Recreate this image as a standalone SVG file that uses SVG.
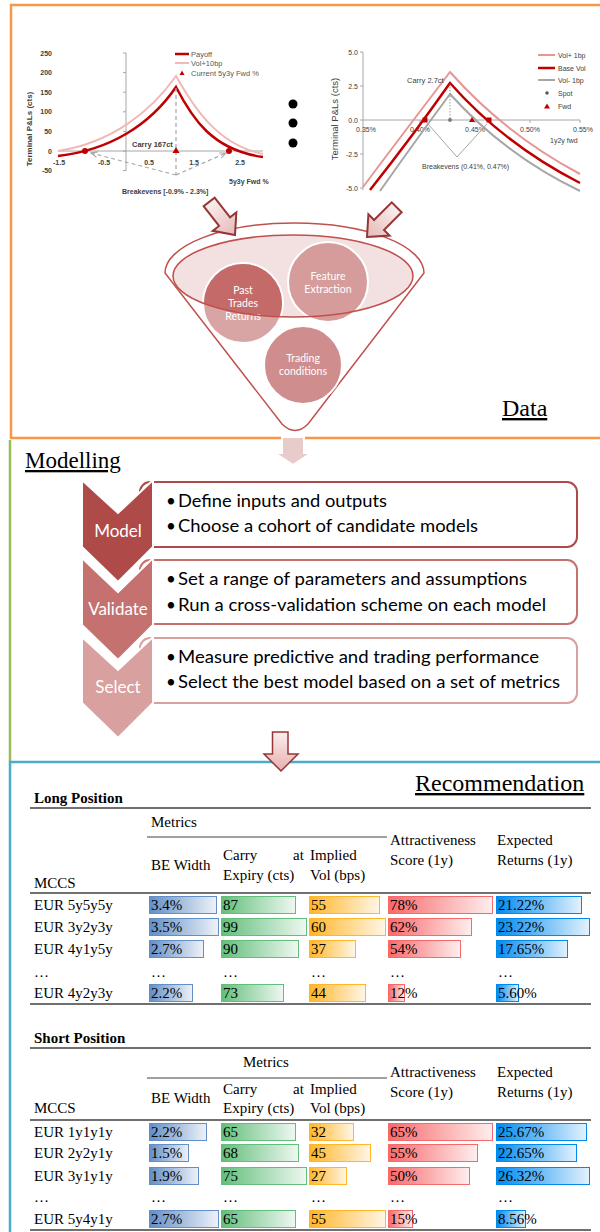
<svg xmlns="http://www.w3.org/2000/svg" width="600" height="1232" viewBox="0 0 600 1232">
<defs>
<style>
.ax{stroke:#A6A6A6;stroke-width:1;fill:none}
.sm{font-family:"Liberation Sans",Arial,sans-serif;font-size:7px;fill:#404040}
.b{font-weight:bold}
.ser{font-family:"Liberation Serif","Times New Roman",serif;fill:#000}
.ttl{font-family:"Liberation Serif","Times New Roman",serif;fill:#000;text-decoration:underline}
.th{font-size:15px}
.cal{font-family:Lato,"Liberation Sans",sans-serif}
.bul{font-size:17px;fill:#000}
.chv{font-size:17px;fill:#fff;text-anchor:middle}
.ct{font-size:10.5px;fill:#fff;text-anchor:middle}
.rule{stroke:#404040;stroke-width:1.3}
.bb{stroke:#638EC6;fill:url(#gB)}
.bg{stroke:#63BE7B;fill:url(#gG)}
.bo{stroke:#FFB628;fill:url(#gO)}
.br{stroke:#F8696B;fill:url(#gR)}
.bl{stroke:#008AEF;fill:url(#gL)}
</style>
<linearGradient id="gB"><stop offset="0" stop-color="#638EC6"/><stop offset="1" stop-color="#EEF2F9"/></linearGradient>
<linearGradient id="gG"><stop offset="0" stop-color="#63BE7B"/><stop offset="1" stop-color="#EEF8F1"/></linearGradient>
<linearGradient id="gO"><stop offset="0" stop-color="#FFB628"/><stop offset="1" stop-color="#FFF6E6"/></linearGradient>
<linearGradient id="gR"><stop offset="0" stop-color="#F8696B"/><stop offset="1" stop-color="#FEEEEE"/></linearGradient>
<linearGradient id="gL"><stop offset="0" stop-color="#008AEF"/><stop offset="1" stop-color="#E3F2FD"/></linearGradient>
<linearGradient id="gP" x1="0" y1="0" x2="1" y2="0"><stop offset="0" stop-color="#FBEFEF"/><stop offset="1" stop-color="#E6B9B8"/></linearGradient>
<linearGradient id="gPv" x1="0" y1="0" x2="0" y2="1"><stop offset="0" stop-color="#FBEEEE"/><stop offset="1" stop-color="#E6B0AF"/></linearGradient>
<marker id="ah" viewBox="0 0 10 10" refX="9" refY="5" markerWidth="6" markerHeight="6" orient="auto"><path d="M0,1 L9,5 L0,9" fill="none" stroke="#A6A6A6" stroke-width="1.5"/></marker>
<clipPath id="ellClip"><ellipse cx="293" cy="276" rx="120" ry="41"/></clipPath>
</defs>

<!-- section frames -->
<g id="frames" fill="none">
<path d="M600,5 H11 V438 H600" stroke="#F79646" stroke-width="2.5"/>
<path d="M10,440 V761" stroke="#9BBB59" stroke-width="2.5"/>
<path d="M600,762 H10 V1232" stroke="#4BACC6" stroke-width="2.5"/>
</g>

<!-- left chart -->
<g id="chart-left">
<line class="ax" x1="126" y1="53" x2="126" y2="171"/>
<path class="ax" d="M123,53H126M123,72.6H126M123,92.2H126M123,111.8H126M123,131.4H126M123,151H126M123,170.6H126"/>
<line class="ax" x1="58" y1="151" x2="263" y2="151"/>
<g class="sm b" text-anchor="end">
<text x="52" y="55.5">250</text><text x="52" y="75">200</text><text x="52" y="94.7">150</text><text x="52" y="114.3">100</text><text x="52" y="133.9">50</text><text x="52" y="153.5">0</text><text x="52" y="173">-50</text>
</g>
<g class="sm b" text-anchor="middle">
<text x="59" y="165">-1.5</text><text x="104" y="165">-0.5</text><text x="149" y="165">0.5</text><text x="194" y="165">1.5</text><text x="240" y="165">2.5</text>
</g>
<text class="sm b" text-anchor="middle" transform="translate(32,129) rotate(-90)" style="font-size:8px">Terminal  P&amp;Ls (cts)</text>
<path d="M58,151 C110,143 150,113 176,76 C194,108 218,145 263,154" fill="none" stroke="#F2B8B8" stroke-width="2"/>
<path d="M58,156 C110,150 150,125 176,87 C192,118 212,150 263,157" fill="none" stroke="#C00000" stroke-width="2.5"/>
<g stroke="#A6A6A6" stroke-width="1.2" stroke-dasharray="4,3" fill="none">
<line x1="176" y1="88" x2="176" y2="175"/>
<line x1="176" y1="175" x2="91" y2="153" marker-end="url(#ah)"/>
<line x1="176" y1="175" x2="226" y2="153" marker-end="url(#ah)"/>
</g>
<circle cx="85" cy="151" r="3" fill="#C00000"/>
<circle cx="229" cy="151" r="3" fill="#C00000"/>
<path d="M176,147 L179.5,153 L172.5,153 Z" fill="#C00000"/>
<text class="sm b" x="132" y="147" style="font-size:7.5px">Carry 167ct</text>
<text class="sm b" x="122" y="194">Breakevens [-0.9% - 2.3%]</text>
<text class="sm b" x="229" y="184">5y3y Fwd %</text>
<line x1="175" y1="54" x2="189" y2="54" stroke="#C00000" stroke-width="2.5"/>
<line x1="175" y1="63" x2="189" y2="63" stroke="#F2B8B8" stroke-width="2"/>
<path d="M182,70.5 L184.5,75 L179.5,75 Z" fill="#C00000"/>
<g class="sm" style="font-size:7.5px;fill:#595959">
<text x="191" y="56.5">Payoff</text><text x="191" y="65.5">Vol+10bp</text><text x="191" y="75.5">Current 5y3y Fwd %</text>
</g>
</g>

<!-- ellipsis dots -->
<g id="more-dots" fill="#000">
<circle cx="293" cy="104" r="4.5"/><circle cx="293" cy="123" r="4.5"/><circle cx="293" cy="143" r="4.5"/>
</g>

<!-- right chart -->
<g id="chart-right">
<line class="ax" x1="363" y1="52" x2="363" y2="190"/>
<path class="ax" d="M360,52H363M360,86H363M360,120H363M360,154H363M360,188H363"/>
<line class="ax" x1="363" y1="120" x2="580" y2="120"/>
<path class="ax" d="M420,120V123M475,120V123M530,120V123M580,120V123"/>
<g class="sm" text-anchor="end">
<text x="358" y="54.5">5.0</text><text x="358" y="88.5">2.5</text><text x="358" y="122.5">0.0</text><text x="358" y="156.5">-2.5</text><text x="358" y="190.5">-5.0</text>
</g>
<g class="sm" text-anchor="middle">
<text x="366" y="131.5">0.35%</text><text x="420" y="131.5">0.40%</text><text x="475" y="131.5">0.45%</text><text x="530" y="131.5">0.50%</text><text x="583" y="131.5">0.55%</text>
</g>
<text class="sm" text-anchor="middle" transform="translate(338,119) rotate(-90)" style="font-size:9.5px">Terminal  P&amp;Ls (cts)</text>
<path d="M363,187 Q408,127 450,72 Q505,134 580,174" fill="none" stroke="#E69696" stroke-width="2"/>
<path d="M380,191 Q416,140 450,94 Q505,155 580,191" fill="none" stroke="#A6A6A6" stroke-width="2"/>
<path d="M370,190 Q412,137 450,83 Q505,145 580,183" fill="none" stroke="#C00000" stroke-width="2.5"/>
<line x1="450" y1="84" x2="450" y2="120" stroke="#808080" stroke-width="0.8" stroke-dasharray="1.5,1.5"/>
<path d="M428,124 L457,157 L487,124" fill="none" stroke="#A6A6A6" stroke-width="1"/>
<rect x="422.5" y="117.5" width="5" height="5" fill="#C00000"/>
<rect x="486.5" y="117.5" width="5" height="5" fill="#C00000"/>
<circle cx="450" cy="120" r="2" fill="#7F7F7F"/>
<path d="M472,117 L475,122 L469,122 Z" fill="#C00000"/>
<text class="sm" x="407" y="83" style="font-size:7.5px">Carry 2.7ct</text>
<text class="sm" x="422" y="169">Breakevens  (0.41%, 0.47%)</text>
<text class="sm" x="550" y="143">1y2y fwd</text>
<line x1="538" y1="55" x2="555" y2="55" stroke="#E69696" stroke-width="2"/>
<line x1="538" y1="68" x2="555" y2="68" stroke="#C00000" stroke-width="2.5"/>
<line x1="538" y1="80" x2="555" y2="80" stroke="#A6A6A6" stroke-width="2"/>
<circle cx="547" cy="93" r="1.8" fill="#595959"/>
<path d="M547,103.5 L550,108.5 L544,108.5 Z" fill="#C00000"/>
<g class="sm">
<text x="558" y="57.5">Vol+ 1bp</text><text x="558" y="70.5">Base Vol</text><text x="558" y="82.5">Vol- 1bp</text><text x="558" y="95.5">Spot</text><text x="558" y="108.5">Fwd</text>
</g>
</g>

<!-- funnel -->
<g id="funnel">
<path d="M165,273 A129.5,50 0 0 1 424,273 L308,424 Q295,437 282,424 Z" fill="#fff" stroke="#C0504D" stroke-width="1.5"/>
<ellipse cx="293" cy="276" rx="120" ry="41" fill="#F3E1E1"/>
</g>
<g id="node-past-trades">
<circle cx="243" cy="303" r="40" fill="#D9A5A4" stroke="#fff" stroke-width="2"/>
<circle cx="243" cy="303" r="39" fill="#C46B6A" clip-path="url(#ellClip)"/>
<g class="cal ct"><text x="243" y="294">Past</text><text x="243" y="307">Trades</text><text x="243" y="320">Returns</text></g>
</g>
<g id="node-feature-extraction">
<circle cx="328" cy="282" r="40" fill="#D59C9B" stroke="#fff" stroke-width="2"/>
<g class="cal ct"><text x="328" y="280">Feature</text><text x="328" y="293">Extraction</text></g>
</g>
<g id="node-trading-conditions">
<circle cx="303" cy="365" r="39" fill="#CF8E8D" stroke="#fff" stroke-width="2"/>
<g class="cal ct"><text x="303" y="362">Trading</text><text x="303" y="375">conditions</text></g>
</g>
<ellipse id="funnel-rim" cx="293" cy="276" rx="120" ry="41" fill="none" stroke="#C0504D" stroke-width="1.5"/>

<text id="title-data" class="ttl" x="502" y="416" style="font-family:'Liberation Serif','Times New Roman',serif;font-size:24px">Data</text>

<!-- connectors -->
<g id="connectors">
<g fill="url(#gP)" stroke="#953735" stroke-width="2" stroke-linejoin="miter">
<polygon transform="translate(235,235) rotate(52)" points="0,0 -17,-15 -17,-7 -42,-7 -42,7 -17,7 -17,15"/>
<polygon transform="translate(367,237) rotate(135)" points="0,0 -17,-15 -17,-7 -42,-7 -42,7 -17,7 -17,15"/>
</g>
<path d="M282,437 H304 V453 H311 L293,465 L275,453 H282 Z" fill="#E8CBCB" stroke="#fff" stroke-width="2"/>
<path d="M272.5,732 H288 V754 H298 L281,771 L264,754 H272.5 Z" fill="url(#gPv)" stroke="#953735" stroke-width="1.5"/>
</g>

<!-- modelling -->
<text id="title-modelling" class="ttl" x="25" y="468" style="font-family:'Liberation Serif','Times New Roman',serif;font-size:23px">Modelling</text>
<g id="box-model">
<rect x="140" y="482" width="437" height="65" rx="10" fill="#fff" stroke="#AE4A48" stroke-width="2"/>
<g class="cal bul"><text x="166" y="507">•</text><text x="178" y="507" textLength="209" lengthAdjust="spacingAndGlyphs">Define inputs and outputs</text>
<text x="166" y="532">•</text><text x="178" y="532" textLength="300" lengthAdjust="spacingAndGlyphs">Choose a cohort of candidate models</text></g>
</g>
<g id="box-validate">
<rect x="140" y="560" width="437" height="64" rx="10" fill="#fff" stroke="#C5716F" stroke-width="2"/>
<g class="cal bul"><text x="166" y="585">•</text><text x="178" y="585" textLength="349" lengthAdjust="spacingAndGlyphs">Set a range of parameters and assumptions</text>
<text x="166" y="611">•</text><text x="178" y="611" textLength="368" lengthAdjust="spacingAndGlyphs">Run a cross-validation scheme on each model</text></g>
</g>
<g id="box-select">
<rect x="140" y="638" width="437" height="65" rx="10" fill="#fff" stroke="#D9A0A0" stroke-width="2"/>
<g class="cal bul"><text x="166" y="663">•</text><text x="178" y="663" textLength="361" lengthAdjust="spacingAndGlyphs">Measure predictive and trading performance</text>
<text x="166" y="688">•</text><text x="178" y="688" textLength="382" lengthAdjust="spacingAndGlyphs">Select the best model based on a set of metrics</text></g>
</g>
<g id="chevron-select">
<polygon points="82,637 118,670 153,637 153,703 118,738 82,703" fill="#D9A0A0" stroke="#fff" stroke-width="2"/>
<text class="cal chv" x="118" y="693">Select</text>
</g>
<g id="chevron-validate">
<polygon points="82,558 118,592 153,558 153,625 118,660 82,625" fill="#C5716F" stroke="#fff" stroke-width="2"/>
<text class="cal chv" x="118" y="615">Validate</text>
</g>
<g id="chevron-model">
<polygon points="82,480 118,513 153,480 153,547 118,582 82,547" fill="#AE4A48" stroke="#fff" stroke-width="2"/>
<text class="cal chv" x="118" y="537">Model</text>
</g>

<!-- recommendation -->
<text id="title-recommendation" class="ttl" x="415" y="791" style="font-family:'Liberation Serif','Times New Roman',serif;font-size:24px">Recommendation</text>

<g id="table-long">
<text class="ser th b" x="34" y="803">Long Position</text>
<line class="rule" x1="30" y1="808" x2="591" y2="808"/>
<text class="ser th" x="151" y="827">Metrics</text>
<line x1="147" y1="837" x2="387" y2="837" stroke="#808080" stroke-width="1.5"/>
<g class="ser th">
<text x="151" y="870">BE Width</text>
<text x="223" y="860">Carry</text><text x="293" y="860">at</text><text x="223" y="880">Expiry (cts)</text>
<text x="310" y="860">Implied</text><text x="310" y="880">Vol (bps)</text>
<text x="390" y="845">Attractiveness</text><text x="390" y="865">Score (1y)</text>
<text x="497" y="845">Expected</text><text x="497" y="865">Returns (1y)</text>
<text x="34" y="888">MCCS</text>
</g>
<line class="rule" x1="30" y1="893" x2="591" y2="893"/>
<g>
<rect class="bb" x="149.5" y="896.5" width="67" height="17"/><rect class="bg" x="221.5" y="896.5" width="74" height="17"/><rect class="bo" x="309.5" y="896.5" width="70" height="17"/><rect class="br" x="388.5" y="896.5" width="104" height="17"/><rect class="bl" x="496.5" y="896.5" width="85" height="17"/>
<rect class="bb" x="149.5" y="918.5" width="69" height="17"/><rect class="bg" x="221.5" y="918.5" width="85" height="17"/><rect class="bo" x="309.5" y="918.5" width="76" height="17"/><rect class="br" x="388.5" y="918.5" width="83" height="17"/><rect class="bl" x="496.5" y="918.5" width="93" height="17"/>
<rect class="bb" x="149.5" y="940.5" width="54" height="17"/><rect class="bg" x="221.5" y="940.5" width="77" height="17"/><rect class="bo" x="309.5" y="940.5" width="46" height="17"/><rect class="br" x="388.5" y="940.5" width="72" height="17"/><rect class="bl" x="496.5" y="940.5" width="71" height="17"/>
<rect class="bb" x="149.5" y="984.5" width="43" height="17"/><rect class="bg" x="221.5" y="984.5" width="62" height="17"/><rect class="bo" x="309.5" y="984.5" width="56" height="17"/><rect class="br" x="388.5" y="984.5" width="16" height="17"/><rect class="bl" x="496.5" y="984.5" width="22" height="17"/>
</g>
<g class="ser th">
<text x="34" y="910">EUR 5y5y5y</text><text x="151" y="910">3.4%</text><text x="223" y="910">87</text><text x="311" y="910">55</text><text x="390" y="910">78%</text><text x="498" y="910">21.22%</text>
<text x="34" y="932">EUR 3y2y3y</text><text x="151" y="932">3.5%</text><text x="223" y="932">99</text><text x="311" y="932">60</text><text x="390" y="932">62%</text><text x="498" y="932">23.22%</text>
<text x="34" y="954">EUR 4y1y5y</text><text x="151" y="954">2.7%</text><text x="223" y="954">90</text><text x="311" y="954">37</text><text x="390" y="954">54%</text><text x="498" y="954">17.65%</text>
<text x="34" y="977">…</text><text x="151" y="977">…</text><text x="223" y="977">…</text><text x="311" y="977">…</text><text x="390" y="977">…</text><text x="498" y="977">…</text>
<text x="34" y="998">EUR 4y2y3y</text><text x="151" y="998">2.2%</text><text x="223" y="998">73</text><text x="311" y="998">44</text><text x="390" y="998">12%</text><text x="498" y="998">5.60%</text>
</g>
<line class="rule" x1="30" y1="1004" x2="591" y2="1004"/>
</g>

<g id="table-short">
<text class="ser th b" x="34" y="1043">Short Position</text>
<line class="rule" x1="30" y1="1048" x2="591" y2="1048"/>
<text class="ser th" x="243" y="1067">Metrics</text>
<line x1="147" y1="1078" x2="387" y2="1078" stroke="#808080" stroke-width="1.5"/>
<g class="ser th">
<text x="151" y="1103">BE Width</text>
<text x="223" y="1094">Carry</text><text x="293" y="1094">at</text><text x="223" y="1113">Expiry (cts)</text>
<text x="310" y="1094">Implied</text><text x="310" y="1113">Vol (bps)</text>
<text x="390" y="1077">Attractiveness</text><text x="390" y="1097">Score (1y)</text>
<text x="497" y="1077">Expected</text><text x="497" y="1097">Returns (1y)</text>
<text x="34" y="1113">MCCS</text>
</g>
<line class="rule" x1="30" y1="1120" x2="591" y2="1120"/>
<g>
<rect class="bb" x="149.5" y="1123.5" width="57" height="17"/><rect class="bg" x="221.5" y="1123.5" width="74" height="17"/><rect class="bo" x="309.5" y="1123.5" width="44" height="17"/><rect class="br" x="388.5" y="1123.5" width="104" height="17"/><rect class="bl" x="496.5" y="1123.5" width="90" height="17"/>
<rect class="bb" x="149.5" y="1144.5" width="39" height="17"/><rect class="bg" x="221.5" y="1144.5" width="77" height="17"/><rect class="bo" x="309.5" y="1144.5" width="61" height="17"/><rect class="br" x="388.5" y="1144.5" width="89" height="17"/><rect class="bl" x="496.5" y="1144.5" width="80" height="17"/>
<rect class="bb" x="149.5" y="1167.5" width="49" height="17"/><rect class="bg" x="221.5" y="1167.5" width="85" height="17"/><rect class="bo" x="309.5" y="1167.5" width="37" height="17"/><rect class="br" x="388.5" y="1167.5" width="81" height="17"/><rect class="bl" x="496.5" y="1167.5" width="93" height="17"/>
<rect class="bb" x="149.5" y="1210.5" width="69" height="17"/><rect class="bg" x="221.5" y="1210.5" width="74" height="17"/><rect class="bo" x="309.5" y="1210.5" width="76" height="17"/><rect class="br" x="388.5" y="1210.5" width="24" height="17"/><rect class="bl" x="496.5" y="1210.5" width="29" height="17"/>
</g>
<g class="ser th">
<text x="34" y="1137">EUR 1y1y1y</text><text x="151" y="1137">2.2%</text><text x="223" y="1137">65</text><text x="311" y="1137">32</text><text x="390" y="1137">65%</text><text x="498" y="1137">25.67%</text>
<text x="34" y="1158">EUR 2y2y1y</text><text x="151" y="1158">1.5%</text><text x="223" y="1158">68</text><text x="311" y="1158">45</text><text x="390" y="1158">55%</text><text x="498" y="1158">22.65%</text>
<text x="34" y="1181">EUR 3y1y1y</text><text x="151" y="1181">1.9%</text><text x="223" y="1181">75</text><text x="311" y="1181">27</text><text x="390" y="1181">50%</text><text x="498" y="1181">26.32%</text>
<text x="34" y="1202">…</text><text x="151" y="1202">…</text><text x="223" y="1202">…</text><text x="311" y="1202">…</text><text x="390" y="1202">…</text><text x="498" y="1202">…</text>
<text x="34" y="1224">EUR 5y4y1y</text><text x="151" y="1224">2.7%</text><text x="223" y="1224">65</text><text x="311" y="1224">55</text><text x="390" y="1224">15%</text><text x="498" y="1224">8.56%</text>
</g>
<line class="rule" x1="30" y1="1230" x2="591" y2="1230"/>
</g>
</svg>
